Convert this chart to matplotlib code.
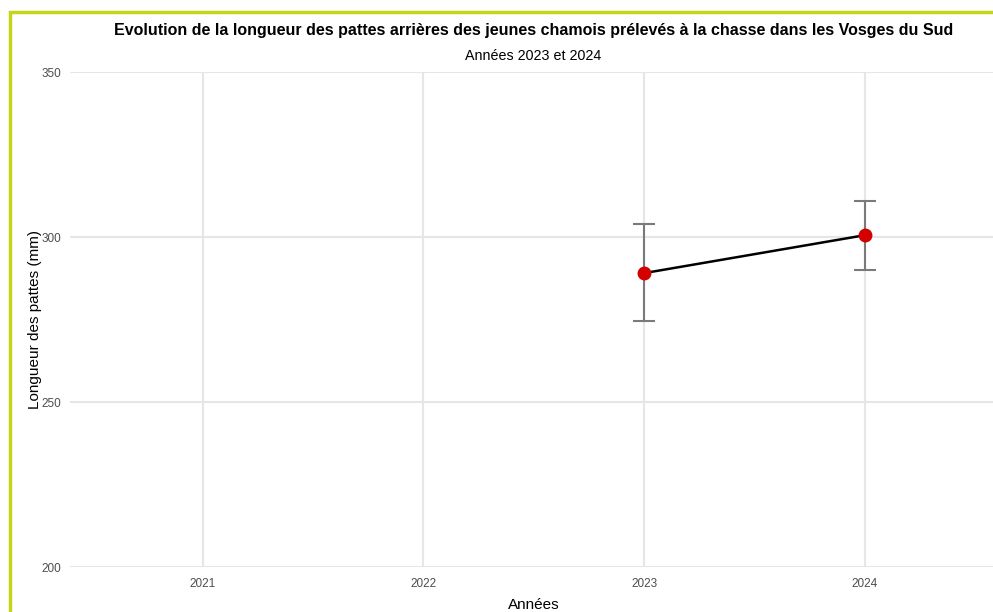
"""
longueur des pattes arrieres - jeunes chamois, Vosges du Sud
"""
import matplotlib.pyplot as plt
from matplotlib.patches import Rectangle

annees = [2023, 2024]
moyenne = [289.1, 300.6]
erreur_bas = [274.5, 290.0]
erreur_haut = [303.9, 310.9]
ticks_x = [2021, 2022, 2023, 2024]
ticks_y = [200, 250, 300, 350]

plt.rcParams['font.family'] = ['Liberation Sans Narrow', 'Liberation Sans', 'DejaVu Sans']

fig = plt.figure(figsize=(9.93, 6.12), dpi=100)
ax = fig.add_axes([0.0705, 0.0735, 0.934, 0.8085])

# barres d'erreur
yerr = [[m - b for m, b in zip(moyenne, erreur_bas)],
        [h - m for m, h in zip(moyenne, erreur_haut)]]
ax.errorbar(annees, moyenne, yerr=yerr, fmt='none', ecolor='#7a7a7a',
            elinewidth=1.5, capsize=8, capthick=1.5, zorder=3)
ax.plot(annees, moyenne, c='black', lw=1.8, zorder=4)
ax.plot(annees, moyenne, ls='none', marker='o', ms=9, c='#d40000', zorder=5)

ax.set_xlim(2020.4, 2024.6)
ax.set_ylim(200, 350)
ax.set_xticks(ticks_x)
ax.set_yticks(ticks_y)
ax.grid(True, color='#e6e6e6', lw=1.5)
ax.set_axisbelow(True)
for s in ax.spines.values():
    s.set_visible(False)
ax.tick_params(length=0, labelsize=8.5, labelcolor='#4d4d4d', pad=8)
ax.tick_params(axis='y', pad=6)

ax.set_xlabel('Années', fontsize=11, labelpad=6)
ax.set_ylabel('Longueur des pattes (mm)', fontsize=11, labelpad=0)

fig.text(0.537, 0.95, "Evolution de la longueur des pattes arrières des jeunes chamois prélevés à la chasse dans les Vosges du Sud",
         ha='center', va='center', fontsize=11.5, fontweight='bold')
fig.text(0.537, 0.908, 'Années 2023 et 2024', ha='center', va='center', fontsize=10.3)

# cadre vert
fig.patches.append(Rectangle((10 / 993, -0.1), 1.2, 1 - 12 / 612 + 0.1,
                             transform=fig.transFigure, fill=False,
                             edgecolor='#c8d41a', lw=2.5))

fig.savefig('out.png', dpi=100)
